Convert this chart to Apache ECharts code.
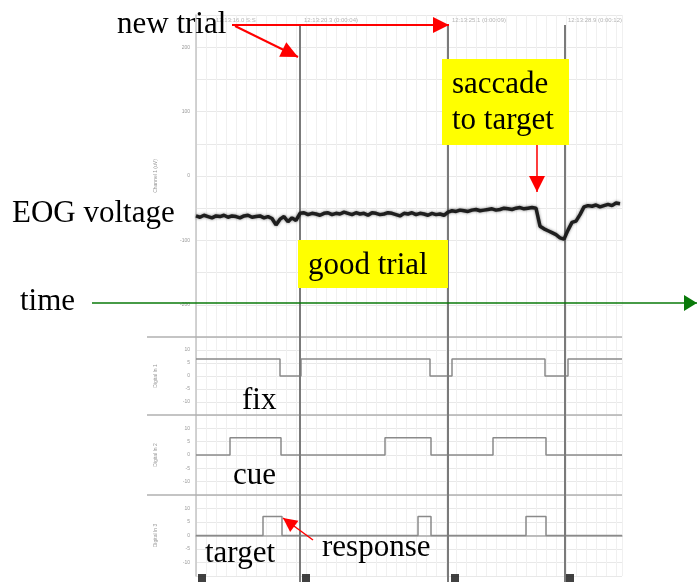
<!DOCTYPE html>
<html><head><meta charset="utf-8">
<script src="https://cdn.jsdelivr.net/npm/echarts@6/dist/echarts.min.js"></script>
<style>html,body{margin:0;padding:0;background:#fff}#c{width:697px;height:586px}</style>
</head><body><div id="c"></div>
<script>
// ---- data ----
const eogStep = 0.04; // seconds between EOG samples
const eogValues = [
 -62,-64,-61,-63,-65,-62,-63,-61,-64,-62,-63,-65,-62,-61,-64,-63,-62,-65,-63,
 -66,-76,-67,-63,-71,-65,-69,
 -58,
 -57,-60,-58,-59,-61,-58,-57,-60,-58,-59,-56,-58,-60,-57,-59,-58,-61,-57,-58,-60,-59,-57,-58,-60,-62,-58,-59,-57,-60,-58,-59,-61,-58,-60,-59,-61,
 -56,
 -54,-55,-53,-54,-55,-53,-52,-54,-53,-52,-51,-53,-52,-50,-51,-52,-50,-49,-51,-50,-49,-50,
 -78,-82,-85,-88,-91,-96,-98,-84,-72,-70,-60,-48,
 -46,-47,-45,-48,-46,-44,-46,-42,-43
];
const trialStarts = [1.04, 2.52, 3.69];
const eventTimes = [0.06, 1.10, 2.59, 3.74];
const fixTimes = [0, 0.84, 1.05, 2.34, 2.56, 3.49, 3.72, 4.26];
const fixValues = [6.5, 0, 6.5, 0, 6.5, 0, 6.5, 6.5];
const cueTimes = [0, 0.34, 0.85, 1.89, 2.35, 2.97, 3.50, 4.26];
const cueValues = [0, 6.5, 0, 6.5, 0, 6.5, 0, 0];
const targetTimes = [0, 0.67, 0.86, 2.22, 2.35, 3.30, 3.50, 4.26];
const targetValues = [0, 7, 0, 7, 0, 7, 0, 0];
const headerLabels = ['12:13:16.0 S:S', '12:13:20.3 (0:00:04)', '12:13:25.1 (0:00:09)', '12:13:28.9 (0:00:12)'];
const channelNames = ['Channel 1 (uV)', 'Digital In 1', 'Digital In 2', 'Digital In 3'];

const T_MAX = 4.26;
const chart = echarts.init(document.getElementById('c'), null, {renderer: 'canvas'});
const serif = '"Liberation Serif","Times New Roman",serif';
const zip = (a, b) => a.map((t, i) => [t, b[i]]);
const eogData = eogValues.map((v, i) => [+(i * eogStep).toFixed(2), v]);

function xAx(i, bottom) {
  return {
    gridIndex: i, type: 'value', min: 0, max: T_MAX, interval: 0.1,
    axisLabel: {show: false},
    axisTick: {show: false},
    axisLine: {show: !!bottom, lineStyle: {color: '#aaa', width: 1.5}},
    splitLine: {show: i < 4, lineStyle: {color: '#f0f0f0', width: 1}}
  };
}
function yAx(i, min, max, interval, name, step) {
  return {
    gridIndex: i, type: 'value', min, max, interval,
    name, nameLocation: 'middle', nameGap: 38, nameRotate: 90,
    nameTextStyle: {fontSize: 5, color: '#999'},
    axisLabel: {fontSize: 5, color: '#999', margin: 6, showMaxLabel: true, showMinLabel: true,
      formatter: v => (Math.abs(v) < max && v % step === 0) ? String(v) : ''},
    axisTick: {show: false},
    axisLine: {show: true, lineStyle: {color: '#c4c4c4', width: 1.5}},
    splitLine: {lineStyle: {color: '#e8e8e8'}},
  };
}
const stepStyle = {color: '#8a8a8a', width: 1.5};

function arrowHead(tipX, tipY, fromX, fromY, len, half, color) {
  const dx = tipX - fromX, dy = tipY - fromY, L = Math.hypot(dx, dy);
  const ux = dx / L, uy = dy / L, bx = tipX - ux * len, by = tipY - uy * len;
  return {type: 'polygon', shape: {points: [[tipX, tipY], [bx - uy * half, by + ux * half], [bx + uy * half, by - ux * half]]},
    style: {fill: color}, z: 100};
}
function arrow(x1, y1, x2, y2, color, w, len, half) {
  return [
    {type: 'line', shape: {x1, y1, x2, y2}, style: {stroke: color, lineWidth: w}, z: 100},
    arrowHead(x2, y2, x1, y1, len, half, color)
  ];
}
// y given as text baseline; converted to top of the text box
function txt(text, x, baseline, size) {
  return {type: 'text', x, y: baseline - 24, z: 110, style: {text, font: size + 'px ' + serif, fill: '#000'}};
}

const graphics = [
  ...[337, 415, 495].map(y => ({type: 'line', shape: {x1: 147, y1: y, x2: 622, y2: y}, style: {stroke: '#b0b0b0', lineWidth: 1.5}, z: 5})),
  ...headerLabels.map((t, i) => ({type: 'text', x: [216, 304, 452, 568][i], y: 17, z: 5,
      style: {text: t, font: '6px sans-serif', fill: '#b5b5b5'}})),
  {type: 'rect', shape: {x: 298, y: 240, width: 150, height: 48}, style: {fill: '#ffff00'}, z: 90},
  {type: 'rect', shape: {x: 442, y: 59, width: 127, height: 86}, style: {fill: '#ffff00'}, z: 90},
  txt('new trial', 117, 33, 31),
  txt('saccade', 452, 93, 31),
  txt('to target', 452, 129, 31),
  txt('EOG voltage', 12, 222, 31),
  txt('good trial', 308, 274, 31),
  txt('time', 20, 310, 31),
  txt('fix', 242, 409, 31),
  txt('cue', 233, 484, 31),
  txt('target', 205, 562, 31),
  txt('response', 322, 556, 31),
  ...arrow(232, 25, 449, 25, '#ff0000', 2, 16, 8),
  ...arrow(235, 26, 298, 57, '#ff0000', 2, 17, 8),
  ...arrow(537, 145, 537, 192, '#ff0000', 1.5, 16, 8),
  ...arrow(313, 540, 283, 518, '#ff0000', 1.5, 14, 7),
  ...arrow(92, 303, 697, 303, '#0a7a0a', 1.5, 13, 8)
];

const option = {
  animation: false,
  backgroundColor: '#fff',
  grid: [
    {left: 196, right: 75, top: 15, height: 322},
    {left: 196, right: 75, top: 337, height: 78},
    {left: 196, right: 75, top: 415, height: 80},
    {left: 196, right: 75, top: 495, height: 81},
    {left: 196, right: 75, top: 25, bottom: 4}
  ],
  xAxis: [xAx(0), xAx(1), xAx(2), xAx(3, true), xAx(4)],
  yAxis: [
    yAx(0, -250, 250, 50, channelNames[0], 100),
    yAx(1, -15, 15, 5, channelNames[1], 5),
    yAx(2, -15, 15, 5, channelNames[2], 5),
    yAx(3, -15, 15, 5, channelNames[3], 5),
    {gridIndex: 4, type: 'value', min: 0, max: 1, show: false}
  ],
  series: [
    {type: 'line', xAxisIndex: 0, yAxisIndex: 0, data: eogData, showSymbol: false,
     lineStyle: {color: '#1e1e1e', width: 3.5, shadowBlur: 3, shadowColor: 'rgba(0,0,0,0.5)'}, z: 10},
    {type: 'line', xAxisIndex: 1, yAxisIndex: 1, data: zip(fixTimes, fixValues), step: 'end', showSymbol: false, lineStyle: stepStyle},
    {type: 'line', xAxisIndex: 2, yAxisIndex: 2, data: zip(cueTimes, cueValues), step: 'end', showSymbol: false, lineStyle: stepStyle},
    {type: 'line', xAxisIndex: 3, yAxisIndex: 3, data: zip(targetTimes, targetValues), step: 'end', showSymbol: false, lineStyle: stepStyle},
    {type: 'scatter', xAxisIndex: 3, yAxisIndex: 3, data: eventTimes.map(t => [t, -15]), symbol: 'rect', symbolSize: 8,
     symbolOffset: [0, 2], itemStyle: {color: '#111'}, clip: false, z: 20},
    {type: 'line', xAxisIndex: 4, yAxisIndex: 4, data: [[0, -1]], showSymbol: false, lineStyle: {opacity: 0}, silent: true,
     markLine: {silent: true, symbol: ['none', 'none'], label: {show: false},
       lineStyle: {color: '#7a7a7a', width: 2, type: 'solid'},
       data: trialStarts.map(t => ({xAxis: t}))}, z: 15}
  ],
  graphic: graphics
};
chart.setOption(option);
</script></body></html>
